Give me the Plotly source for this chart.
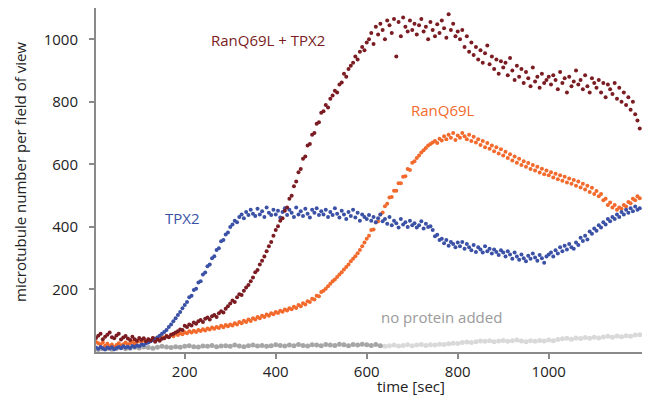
import plotly.graph_objects as go

STEP = 5
T0 = 5

# RanQ69L + TPX2, every 5 s from t = 5 s
ran_tpx2 = [
    45, 52, 58, 41, 49, 55, 62, 47, 44, 53, 58, 40, 46, 51, 43, 38, 49, 41, 36, 45,
    39, 44, 34, 41, 37, 45, 33, 40, 36, 42, 44, 50, 47, 55, 58, 62, 66, 72, 70, 84,
    80, 88, 85, 94, 90, 98, 102, 96, 106, 110, 104, 114, 118, 112, 124, 130, 126, 138, 146, 155,
    165, 160, 175, 185, 182, 196, 206, 214, 226, 238, 255, 262, 280, 292, 305, 322, 338, 352, 372, 390,
    402, 420, 428, 452, 462, 490, 500, 530, 545, 575, 585, 618, 625, 660, 665, 695, 700, 730, 735, 765,
    770, 790, 782, 810, 820, 835, 830, 855, 862, 890, 880, 905, 915, 925, 945, 935, 960, 975, 965, 990,
    1000, 1020, 985, 1040, 1015, 1050, 1030, 1000, 1060, 1045, 1020, 1065, 945, 1055, 1010, 1070, 1040, 1025, 1060, 1030,
    1050, 1015, 1045, 1065, 1025, 1040, 1000, 1055, 1030, 1010, 1048, 1020, 1060, 1035, 1005, 1080, 1030, 1050, 1010, 1025,
    1000, 1030, 975, 1010, 960, 990, 950, 975, 935, 965, 925, 955, 980, 920, 945, 905, 935, 890, 930, 910,
    925, 885, 940, 900, 870, 915, 880, 905, 860, 895, 875, 850, 910, 865, 880, 845, 890, 860, 870, 880,
    855, 885, 870, 840, 895, 860, 875, 830, 880, 850, 865, 900, 855, 870, 840, 885, 850, 830, 875, 860,
    845, 870, 830, 860, 815, 855, 840, 825, 860, 810, 845, 800, 830, 790, 815, 775, 800, 760, 740, 715,
]

# RanQ69L
ran = [
    32, 28, 24, 30, 20, 26, 18, 24, 16, 22, 28, 20, 25, 30, 24, 28, 33, 27, 32, 36,
    30, 38, 34, 40, 36, 44, 40, 46, 42, 48, 45, 52, 48, 55, 50, 58, 54, 60, 57, 63,
    60, 66, 62, 68, 64, 70, 67, 73, 69, 75, 72, 78, 74, 80, 77, 84, 79, 86, 82, 88,
    85, 92, 88, 96, 92, 100, 96, 104, 99, 108, 104, 112, 108, 116, 112, 120, 116, 124, 121, 128,
    125, 132, 129, 136, 133, 140, 137, 145, 141, 150, 146, 156, 152, 162, 160, 170, 168, 180, 178, 192,
    196, 202, 210, 218, 226, 232, 240, 248, 255, 264, 272, 280, 290, 298, 306, 316, 326, 338, 350, 362,
    372, 390, 392, 414, 418, 440, 446, 466, 474, 494, 496, 516, 516, 540, 540, 560, 562, 585, 582, 605,
    610, 620, 628, 638, 645, 652, 660, 665, 670, 675, 668, 682, 676, 690, 680, 695, 685, 700, 678, 692,
    685, 700, 690, 680, 695, 675, 688, 670, 680, 662, 675, 655, 668, 650, 660, 642, 655, 635, 648, 628,
    640, 620, 632, 612, 625, 605, 618, 598, 610, 592, 604, 585, 598, 580, 592, 574, 586, 568, 580, 565,
    575, 558, 570, 552, 565, 548, 560, 542, 555, 538, 550, 532, 545, 526, 538, 520, 532, 512, 525, 505,
    515, 498, 505, 485, 490, 470, 478, 462, 470, 455, 462, 458, 470, 465, 480, 476, 490, 485, 498, 492,
]

# TPX2
tpx2 = [
    14, 10, 16, 12, 8, 14, 11, 15, 9, 13, 16, 12, 18, 14, 17, 13, 19, 16, 21, 18,
    24, 22, 28, 30, 34, 38, 42, 46, 52, 58, 64, 70, 80, 88, 98, 108, 118, 128, 140, 150,
    160, 175, 180, 198, 202, 222, 226, 248, 254, 274, 280, 300, 306, 326, 332, 354, 358, 376, 382, 400,
    408, 420, 415, 432, 440, 428, 448, 438, 455, 442, 435, 458, 440, 450, 432, 462, 445, 438, 455, 440,
    452, 430, 448, 460, 438, 455, 445, 432, 462, 440, 450, 435, 458, 442, 430, 455, 445, 460, 438, 450,
    440, 455, 432, 448, 438, 460, 442, 430, 452, 440, 425, 448, 435, 455, 430, 445, 420, 440, 432, 425,
    438, 420, 432, 415, 428, 440, 418, 425, 410, 432, 405, 420, 412, 398, 425, 408, 415, 400, 420, 405,
    412, 398, 405, 418, 395, 410, 400, 402, 390, 370, 375, 358, 362, 348, 358, 340, 352, 345, 335, 350,
    338, 352, 330, 345, 335, 325, 342, 320, 335, 328, 318, 338, 322, 330, 315, 328, 320, 310, 325, 318,
    305, 322, 312, 298, 318, 305, 295, 312, 300, 290, 308, 298, 315, 302, 292, 310, 300, 285, 305, 312,
    318, 305, 325, 315, 335, 322, 340, 328, 345, 335, 330, 350, 342, 365, 355, 372, 360, 385, 378, 395,
    388, 405, 398, 415, 408, 425, 418, 432, 425, 440, 432, 448, 440, 455, 445, 460, 450, 465, 455, 460,
]

# no protein added (two recordings), every 10 s
G_STEP = 10
none_early = [8, 10, 12, 9, 11, 14, 10, 12, 15, 13, 16, 14, 12, 15, 18,
              16, 14, 17, 15, 18, 20, 17, 16, 19, 18, 21, 17, 19, 20, 18,
              22, 19, 17, 20, 22, 19, 21, 18, 20, 23, 21, 19, 22, 20, 24,
              21, 19, 23, 22, 20, 24, 22, 21, 25, 23, 20, 24, 22, 25, 23,
              21, 24, 20]
none_late = [18, 20, 22, 19, 21, 23, 20, 22, 24, 21, 23, 22, 25, 24, 26,
             28, 27, 30, 32, 30, 33, 35, 34, 36, 33, 35, 37, 34, 36, 38,
             35, 33, 36, 34, 37, 35, 38, 36, 40, 42, 44, 41, 45, 43, 46,
             44, 47, 45, 48, 50, 47, 51, 49, 52, 50, 54, 55]


def times(start, step, vals):
    return [start + step * i for i in range(len(vals))]


t_main = times(T0, STEP, ran_tpx2)
t_early = times(10, G_STEP, none_early)
t_late = times(10 + G_STEP * len(none_early), G_STEP, none_late)

C_RT = "#7a1c22"
C_R = "#f26a2c"
C_T = "#3b51a6"
C_G1 = "#a6a6a6"
C_G2 = "#d9d9d9"

fig = go.Figure()


def add(x, y, c, size=4):
    fig.add_trace(go.Scatter(x=x, y=y, mode="markers",
                             marker=dict(color=c, size=size, line=dict(width=0)),
                             showlegend=False, hoverinfo="skip"))


add(t_late, none_late, C_G2, 5)
add(t_early, none_early, C_G1, 5)
add(t_main, ran, C_R)
add(t_main, tpx2, C_T)
add(t_main, ran_tpx2, C_RT)

FONT = "Open Sans"
axis_col = "#8a8a8a"
# page has an 8px body offset; plot area in page coords
OFF = 8
pl, pr, pt, pb = 96, 642, 8, 352
fig.update_layout(
    width=651, height=404,
    margin=dict(l=pl - OFF, r=651 - (pr - OFF), t=pt - OFF, b=404 - (pb - OFF)),
    plot_bgcolor="white", paper_bgcolor="white",
    font=dict(family=FONT, size=15, color="#222"),
    xaxis=dict(range=[5, 1205], tickvals=[200, 400, 600, 800, 1000], automargin=False,
               showgrid=False, zeroline=False, showline=True, linecolor=axis_col, linewidth=2,
               ticks="outside", ticklen=5, tickcolor=axis_col, tickwidth=1.5,
               tickfont=dict(size=15, color="#222")),
    yaxis=dict(range=[0, 1100], tickvals=[200, 400, 600, 800, 1000], automargin=False,
               showgrid=False, zeroline=False, showline=True, linecolor=axis_col, linewidth=2,
               ticks="outside", ticklen=5, tickcolor=axis_col, tickwidth=1.5,
               ticklabelstandoff=8,
               tickfont=dict(size=15, color="#222")),
)

annos = [
    dict(text="RanQ69L + TPX2", x=268, y=40, color=C_RT),
    dict(text="RanQ69L", x=443, y=110, color=C_R),
    dict(text="TPX2", x=182, y=218, color=C_T),
    dict(text="no protein added", x=441, y=317, color="#9a9a9a"),
    dict(text="time [sec]", x=411, y=386, color="#222"),
]
for a in annos:
    fig.add_annotation(text=a["text"], x=(a["x"] - pl) / (pr - pl), y=(pb - a["y"]) / (pb - pt),
                       xref="paper", yref="paper", showarrow=False,
                       xanchor="center", yanchor="middle",
                       font=dict(family=FONT, size=15, color=a["color"]))
fig.add_annotation(text="microtubule number per field of view", x=(20 - pl) / (pr - pl),
                   y=(pb - 172) / (pb - pt), xref="paper", yref="paper", showarrow=False,
                   textangle=-90, xanchor="center", yanchor="middle",
                   font=dict(family=FONT, size=15, color="#222"))

fig.write_html("out.html")
